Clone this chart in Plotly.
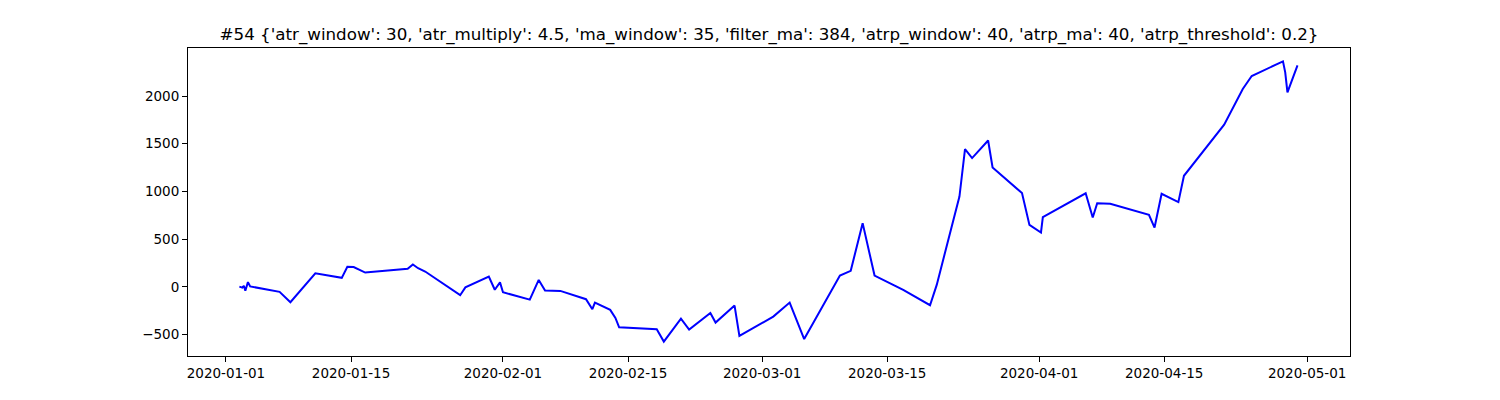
import plotly.graph_objects as go

# equity curve
dates = [
    "2020-01-02 12:00", "2020-01-02 20:00", "2020-01-03 00:00", "2020-01-03 04:00",
    "2020-01-03 11:00", "2020-01-03 17:00", "2020-01-07 00:00", "2020-01-08 05:00",
    "2020-01-11 00:00", "2020-01-13 23:00", "2020-01-14 14:00", "2020-01-15 07:00",
    "2020-01-16 14:00", "2020-01-21 08:00", "2020-01-21 22:00", "2020-01-22 12:00",
    "2020-01-23 07:00", "2020-01-24 22:00", "2020-01-25 02:00", "2020-01-27 05:00",
    "2020-01-27 19:00", "2020-01-30 10:00", "2020-01-31 02:00", "2020-01-31 16:00",
    "2020-02-01 00:00", "2020-02-04 00:00", "2020-02-05 00:00", "2020-02-05 17:00",
    "2020-02-07 10:00", "2020-02-10 07:00", "2020-02-11 00:00", "2020-02-11 07:00",
    "2020-02-13 00:00", "2020-02-13 14:00", "2020-02-14 00:00", "2020-02-18 05:00",
    "2020-02-19 00:00", "2020-02-20 22:00", "2020-02-21 20:00", "2020-02-24 05:00",
    "2020-02-24 19:00", "2020-02-26 22:00", "2020-02-27 11:00", "2020-03-02 06:00",
    "2020-03-04 02:00", "2020-03-05 17:00", "2020-03-09 17:00", "2020-03-10 22:00",
    "2020-03-12 06:00", "2020-03-13 14:00", "2020-03-16 19:00", "2020-03-19 19:00",
    "2020-03-20 13:00", "2020-03-23 02:00", "2020-03-23 17:00", "2020-03-24 12:00",
    "2020-03-26 07:00", "2020-03-26 19:00", "2020-03-30 02:00", "2020-03-30 22:00",
    "2020-04-01 05:00", "2020-04-01 10:00", "2020-04-06 05:00", "2020-04-07 00:00",
    "2020-04-07 12:00", "2020-04-08 23:00", "2020-04-13 07:00", "2020-04-13 22:00",
    "2020-04-14 17:00", "2020-04-16 14:00", "2020-04-17 05:00", "2020-04-21 17:00",
    "2020-04-23 19:00", "2020-04-24 19:00", "2020-04-28 07:00", "2020-04-28 13:00",
    "2020-04-28 19:00", "2020-04-29 22:00",
]
equity = [
    3, -8, 12, -40,
    50, 5, -52, -161,
    143, 95, 210, 208,
    150, 189, 235, 196,
    161, 55, 45, -87,
    -5, 108, -30, 47,
    -56, -133, 73, -39,
    -42, -129, -234, -164,
    -241, -325, -423, -444,
    -573, -332, -447, -273,
    -374, -196, -514, -311,
    -164, -547, 119, 168,
    668, 119, -31, -192,
    21, 947, 1444, 1350,
    1534, 1251, 983, 650,
    570, 731, 981, 727,
    877, 870, 755, 622,
    975, 888, 1164, 1699,
    2073, 2210, 2363, 2248,
    2038, 2321,
]

tick_dates = ["2020-01-01", "2020-01-15", "2020-02-01", "2020-02-15", "2020-03-01",
              "2020-03-15", "2020-04-01", "2020-04-15", "2020-05-01"]
y_ticks = [-500, 0, 500, 1000, 1500, 2000]

title = ("#54 {'atr_window': 30, 'atr_multiply': 4.5, 'ma_window': 35, 'filter_ma': 384, "
         "'atrp_window': 40, 'atrp_ma': 40, 'atrp_threshold': 0.2}")

fig = go.Figure()
fig.add_trace(go.Scatter(x=dates, y=equity, mode='lines', line=dict(color='blue', width=2),
                         showlegend=False))

# page body has an 8px margin, so the figure is made 8px smaller each way
fig.update_layout(
    width=1492, height=392,
    paper_bgcolor='white', plot_bgcolor='white',
    margin=dict(l=180, r=150, t=40, b=44),
    font=dict(family='DejaVu Sans', size=13.5, color='black'),
    title=dict(text=title, x=0.5, xref='paper', xanchor='center',
               y=1 - 26/392, yref='container', yanchor='middle',
               font=dict(family='DejaVu Sans', size=16.7, color='black')),
)

fig.update_xaxes(range=["2019-12-27 18:00", "2020-05-05 19:00"],
                 tickvals=tick_dates, ticktext=tick_dates,
                 showgrid=False, zeroline=False,
                 showline=True, linecolor='black', linewidth=1, mirror=True,
                 ticks='outside', ticklen=5, tickwidth=1, tickcolor='black')
fig.update_yaxes(range=[-724, 2503], tickvals=y_ticks,
                 showgrid=False, zeroline=False,
                 showline=True, linecolor='black', linewidth=1, mirror=True,
                 ticks='outside', ticklen=5, tickwidth=1, tickcolor='black')

fig.write_html("out.html")
